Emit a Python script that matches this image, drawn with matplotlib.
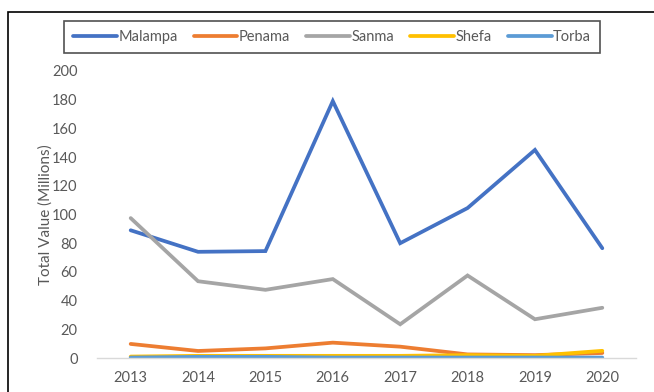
import matplotlib
matplotlib.use("Agg")
import matplotlib.pyplot as plt
from matplotlib.patches import Rectangle
from matplotlib.lines import Line2D

plt.rcParams['font.family'] = ['Lato', 'DejaVu Sans']

years = ["2013", "2014", "2015", "2016", "2017", "2018", "2019", "2020"]
malampa = [89, 74, 74.5, 179, 80, 104.5, 145, 76.5]
penama = [9.8, 4.9, 6.7, 10.7, 7.9, 2.5, 2, 3.5]
sanma = [97.5, 53.5, 47.5, 55, 23.5, 57.5, 27, 35]
shefa = [1, 1.5, 1.5, 1.5, 1.5, 2, 1.5, 5]
torba = [0.3, 0.8, 0.8, 0.3, 0.3, 0.3, 0.3, 0.3]

series = [
    ("Malampa", malampa, "#4472C4"),
    ("Penama", penama, "#ED7D31"),
    ("Sanma", sanma, "#A5A5A5"),
    ("Shefa", shefa, "#FFC000"),
    ("Torba", torba, "#5B9BD5"),
]

text_color = "#595959"

fig = plt.figure(figsize=(6.54, 3.92), dpi=100)
ax = fig.add_axes([97 / 654, 34 / 392, (636 - 97) / 654, (321 - 34) / 392])

x = list(range(len(years)))
for name, vals, col in series:
    ax.plot(x, vals, color=col, lw=2.7, solid_capstyle="round",
            solid_joinstyle="miter", label=name)

ax.set_xlim(-0.5, len(years) - 0.5)
ax.set_ylim(0, 200)
ax.set_yticks(range(0, 201, 20))
ax.set_xticks(x)
ax.set_xticklabels(years)
for s in ["top", "right", "left"]:
    ax.spines[s].set_visible(False)
ax.spines["bottom"].set_color("#D9D9D9")
ax.spines["bottom"].set_linewidth(1)
ax.tick_params(axis="both", length=0, colors=text_color, labelsize=10.5)
ax.tick_params(axis="y", pad=14)
ax.tick_params(axis="x", pad=9)
ax.set_ylabel("Total Value (Millions)", color=text_color, fontsize=11)
ax.yaxis.set_label_coords(-0.083, 0.5)

# chart frame
fig.patches.append(Rectangle((8 / 654, -0.1), 1.2, 380 / 392 + 0.1,
                             transform=fig.transFigure, fill=False,
                             edgecolor="black", lw=1.2))

handles = [Line2D([0], [0], color=c, lw=2.7, solid_capstyle="round") for _, _, c in series]
leg = fig.legend(handles, [n for n, _, _ in series], ncol=5,
                 loc="center", bbox_to_anchor=(332 / 654, 355 / 392),
                 frameon=True, fancybox=False, edgecolor="#262626",
                 fontsize=10.5, handlelength=3.0, handletextpad=0.1,
                 columnspacing=1.1, borderpad=0.6)
leg.get_frame().set_linewidth(1.2)
for t in leg.get_texts():
    t.set_color(text_color)

fig.savefig("out.png", dpi=100)
